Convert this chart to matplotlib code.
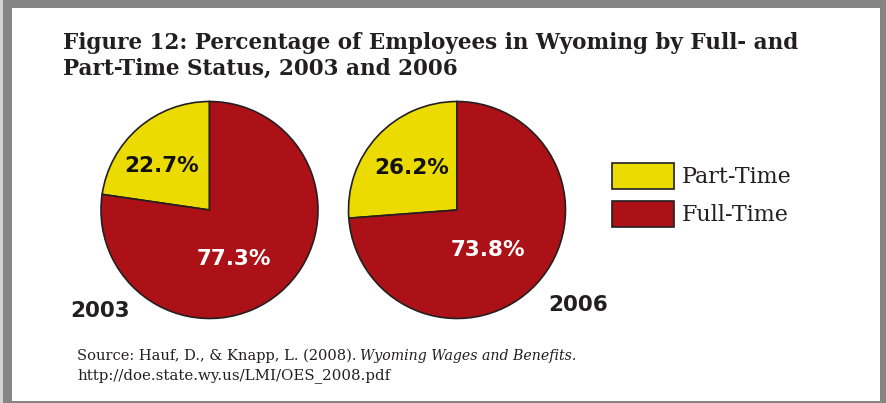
import matplotlib.pyplot as plt
from matplotlib.patches import Rectangle

years = ['2003', '2006']
part_time = [22.7, 26.2]
full_time = [77.3, 73.8]
categories = ['Part-Time', 'Full-Time']
colors = ['#ecdb00', '#ab1117']

W, H = 886, 403
fig = plt.figure(figsize=(W / 100, H / 100), dpi=100)
fig.patch.set_facecolor('#858585')

# light strip on the far left and white page area
fig.patches.append(Rectangle((0, 0), 3 / W, 1, transform=fig.transFigure,
                             facecolor='#d4d4d4', edgecolor='none', zorder=-4))
fig.patches.append(Rectangle((12 / W, 2 / H), 868 / W, 393 / H,
                             transform=fig.transFigure, facecolor='white',
                             edgecolor='none', zorder=-5))


def px_axes(cx, cy, r, pad=1.05):
    # axes square around a pie centre given in pixels (y from top)
    s = r * pad
    return fig.add_axes([(cx - s) / W, (H - cy - s) / H, 2 * s / W, 2 * s / H])


centres = [(209.5, 210), (457, 210)]
pct_pos = [[(-0.44, 0.41), (0.22, -0.45)], [(-0.42, 0.39), (0.28, -0.37)]]
year_pos = [(100, 311), (578, 305)]

for i in range(2):
    cx, cy = centres[i]
    ax = px_axes(cx, cy, 108.5)
    ax.set_facecolor('none')
    ax.pie([part_time[i], full_time[i]], colors=colors, startangle=90,
           counterclock=True, radius=1,
           wedgeprops=dict(edgecolor='#231f20', linewidth=1.2))
    ax.set_xlim(-1.05, 1.05)
    ax.set_ylim(-1.05, 1.05)
    ax.set_aspect('equal')
    ax.axis('off')
    (px, py), (fx, fy) = pct_pos[i]
    ax.text(px, py, f'{part_time[i]}%', ha='center', va='center',
            fontsize=15.5, fontweight='bold', family='DejaVu Sans', color='#111111')
    ax.text(fx, fy, f'{full_time[i]}%', ha='center', va='center',
            fontsize=15.5, fontweight='bold', family='DejaVu Sans', color='white')
    yx, yy = year_pos[i]
    fig.text(yx / W, 1 - yy / H, years[i], ha='center', va='center',
             fontsize=15.5, fontweight='bold', family='DejaVu Sans', color='#231f20')

# title
fig.text(63 / W, 1 - 56 / H, 'Figure 12: Percentage of Employees in Wyoming by Full- and\nPart-Time Status, 2003 and 2006',
         ha='left', va='center', fontsize=15.5, fontweight='bold', family='DejaVu Serif',
         color='#231f20', linespacing=1.2)

# legend
for j, cat in enumerate(categories):
    y0 = [163, 201][j]
    fig.patches.append(Rectangle((612 / W, 1 - (y0 + 26) / H), 62 / W, 26 / H,
                                 transform=fig.transFigure, facecolor=colors[j],
                                 edgecolor='#231f20', linewidth=1.2))
    fig.text(682 / W, 1 - (y0 + 14) / H, cat, ha='left', va='center',
             fontsize=16, family='DejaVu Serif', color='#231f20')

# source, italic title placed right after the plain part
src = fig.text(77 / W, 1 - 356 / H, 'Source: Hauf, D., & Knapp, L. (2008).', ha='left', va='center',
               fontsize=10.5, family='DejaVu Serif', color='#231f20')
fig.text(77 / W, 1 - 376 / H, 'http://doe.state.wy.us/LMI/OES_2008.pdf', ha='left', va='center',
         fontsize=10.8, family='DejaVu Serif', color='#231f20')
fig.canvas.draw()
bb = src.get_window_extent()
fig.text((bb.x1 + 4) / W, 1 - 356 / H, 'Wyoming Wages and Benefits.', ha='left', va='center',
         fontsize=10.2, family='DejaVu Serif', style='italic', color='#231f20')

fig.savefig('out.png', dpi=100, facecolor=fig.get_facecolor())
